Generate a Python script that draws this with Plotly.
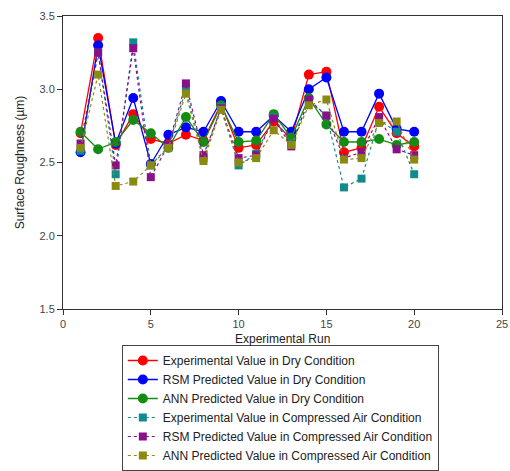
import plotly.graph_objects as go

runs = list(range(1, 21))

exp_dry = [2.70, 3.35, 2.62, 2.83, 2.66, 2.63, 2.69, 2.65, 2.90, 2.60, 2.62, 2.78, 2.66, 3.10, 3.12, 2.57, 2.60, 2.88, 2.70, 2.61]
rsm_dry = [2.57, 3.30, 2.63, 2.94, 2.49, 2.69, 2.74, 2.71, 2.92, 2.71, 2.71, 2.82, 2.71, 3.00, 3.08, 2.71, 2.71, 2.97, 2.73, 2.71]
ann_dry = [2.71, 2.59, 2.64, 2.79, 2.70, 2.60, 2.81, 2.64, 2.89, 2.64, 2.65, 2.83, 2.67, 2.94, 2.76, 2.64, 2.64, 2.66, 2.62, 2.64]
exp_air = [2.58, 3.25, 2.42, 3.32, 2.48, 2.61, 3.00, 2.53, 2.88, 2.48, 2.56, 2.81, 2.63, 2.92, 2.82, 2.33, 2.39, 2.79, 2.71, 2.42]
rsm_air = [2.63, 3.25, 2.48, 3.28, 2.40, 2.62, 3.04, 2.55, 2.87, 2.53, 2.55, 2.80, 2.61, 2.93, 2.82, 2.53, 2.57, 2.81, 2.59, 2.55]
ann_air = [2.60, 3.10, 2.34, 2.37, 2.48, 2.60, 2.97, 2.51, 2.86, 2.50, 2.53, 2.72, 2.62, 2.89, 2.93, 2.52, 2.53, 2.77, 2.78, 2.52]

names = [
    "Experimental Value in Dry Condition",
    "RSM Predicted Value in Dry Condition",
    "ANN Predicted Value in Dry Condition",
    "Experimental Value in Compressed Air Condition",
    "RSM Predicted Value in Compressed Air Condition",
    "ANN Predicted Value in Compressed Air Condition",
]
series = [exp_dry, rsm_dry, ann_dry, exp_air, rsm_air, ann_air]
colors = ["#ff0000", "#0000ff", "#148c14", "#108a8a", "#8a108a", "#8a8a10"]

fig = go.Figure()
for i, (nm, ys, c) in enumerate(zip(names, series, colors)):
    dry = i < 3
    fig.add_trace(go.Scatter(
        x=runs, y=ys, name=nm, mode="lines+markers",
        line=dict(color=c, width=1.3 if dry else 1.2, dash="solid" if dry else "dot"),
        marker=dict(color=c, size=10 if dry else 8, symbol="circle" if dry else "square"),
    ))

font_fam = "Arial, Liberation Sans"
axis_common = dict(
    showline=True, linecolor="#333", linewidth=1, mirror=True,
    ticks="outside", ticklen=5, tickcolor="#333", showgrid=False, zeroline=False,
    tickfont=dict(family=font_fam, size=11, color="#444"),
)
fig.update_xaxes(range=[0, 25], tickvals=[0, 5, 10, 15, 20, 25], **axis_common)
fig.update_yaxes(range=[1.5, 3.5], tickvals=[1.5, 2.0, 2.5, 3.0, 3.5], tickformat=".1f",
                 title=dict(text="Surface Roughness (µm)", font=dict(family=font_fam, size=12, color="#222"), standoff=12),
                 **axis_common)

fig.add_annotation(text="Experimental Run", xref="paper", yref="paper", x=0.5, y=-0.102,
                   xanchor="center", yanchor="middle", showarrow=False,
                   font=dict(family=font_fam, size=12, color="#222"))

fig.update_layout(
    width=510, height=471,
    margin=dict(l=63, r=8, t=16, b=162, autoexpand=False),
    paper_bgcolor="white", plot_bgcolor="white",
    showlegend=True,
    legend=dict(x=0.134, xref="paper", y=0.0, yref="container", xanchor="left", yanchor="bottom",
                bordercolor="#444", borderwidth=1, bgcolor="white",
                font=dict(family=font_fam, size=12, color="#222"),
                tracegroupgap=0, itemwidth=30),
)

fig.write_html("out.html")
